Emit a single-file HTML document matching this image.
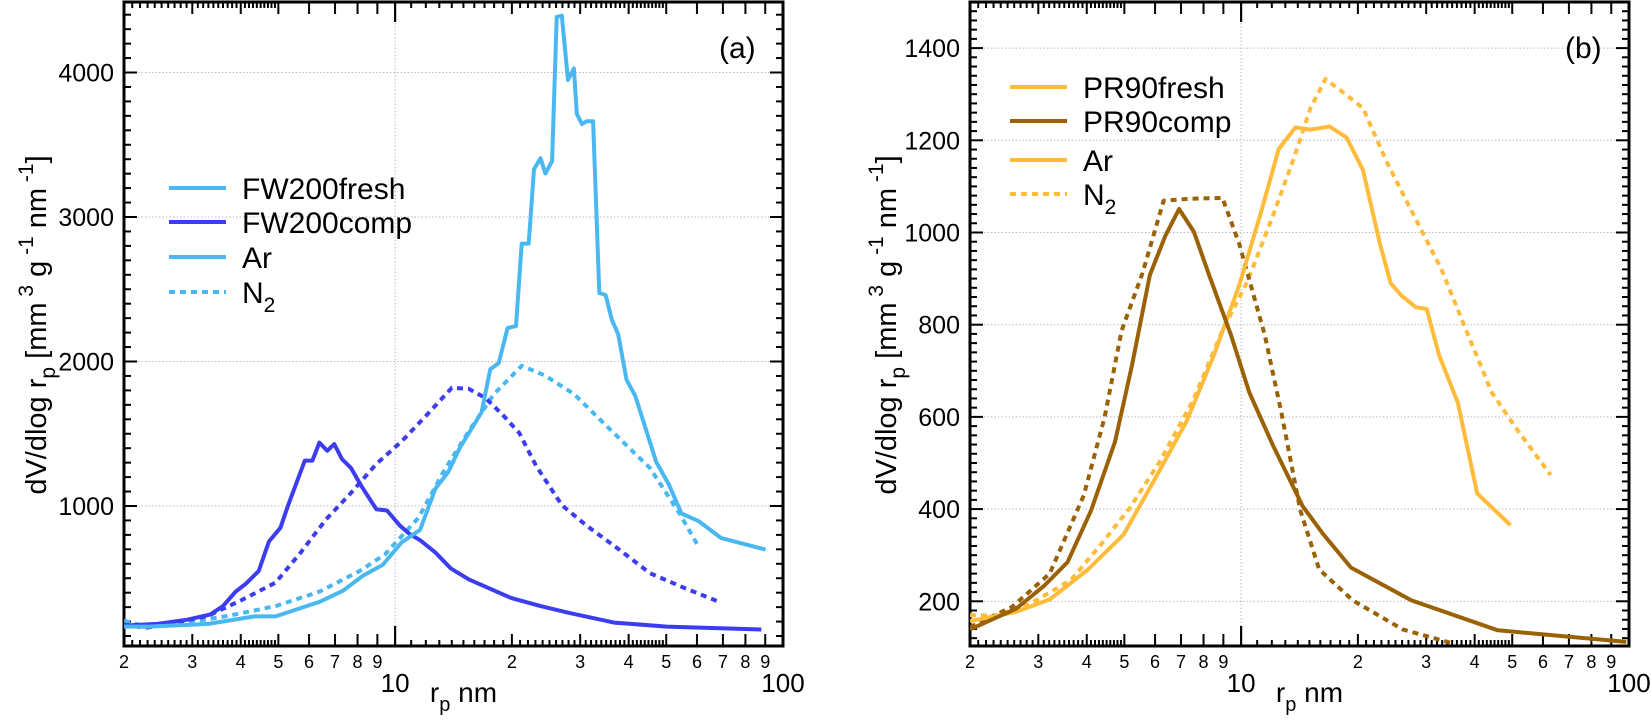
<!DOCTYPE html>
<html><head><meta charset="utf-8">
<style>
html,body{margin:0;padding:0;background:#fff;}
svg{display:block;font-family:"Liberation Sans",Arial,sans-serif;}
</style></head>
<body>
<svg id="chart" width="1651" height="724" viewBox="0 0 1651 724" xmlns="http://www.w3.org/2000/svg"></svg>
<script>
// ---------- Panel (a) data ----------
const aFreshR = [2.00,2.32,3.30,4.34,4.92,6.38,7.33,8.30,9.29,10.4,11.6,12.7,13.7,14.7,16.7,17.6,18.5,19.5,20.5,21.2,22.1,22.8,23.7,24.4,25.4,26.1,26.9,27.9,28.9,29.4,30.3,31.2,32.4,33.6,34.9,36.2,37.6,39.5,41.6,47.1,50.8,54.7,60.5,69.3,90.2];
const aFreshV = [165,165,184,236,236,336,413,521,592,749,835,1120,1234,1405,1647,1947,1989,2232,2246,2816,2816,3330,3407,3301,3387,4385,4393,3948,4028,3715,3643,3663,3663,2474,2460,2289,2189,1875,1761,1305,1148,949,897,778,698];
const aFreshN2R = [2.00,2.27,2.91,3.73,4.92,6.38,8.10,9.41,11.5,13.3,15.5,18.0,21.2,24.3,28.9,35.3,45.4,54.1,60.5];
const aFreshN2V = [207,165,193,241,307,407,550,664,920,1234,1519,1776,1970,1904,1776,1547,1262,949,721];
const aCompR = [2.00,2.44,2.91,3.34,3.60,3.88,4.13,4.45,4.73,5.06,5.30,5.85,6.12,6.38,6.68,6.97,7.29,7.70,8.20,8.95,9.53,10.3,10.9,11.6,12.7,13.9,15.5,19.9,23.7,28.2,36.7,50.1,87.9];
const aCompV = [173,184,213,250,307,407,464,550,755,849,1006,1314,1314,1439,1382,1428,1325,1262,1134,977,969,863,806,763,678,569,492,364,307,259,193,165,145];
const aCompN2R = [2.00,2.27,2.57,3.30,4.03,4.92,5.71,6.63,7.70,8.95,10.4,12.1,14.0,15.5,17.1,18.9,20.9,23.1,26.9,31.2,38.1,45.4,55.4,68.5];
const aCompN2V = [179,156,179,241,350,470,678,906,1091,1291,1448,1633,1818,1810,1747,1633,1505,1277,1006,863,692,535,435,336];
// ---------- Panel (b) data ----------
const bFreshR = [2.00,2.63,3.21,4.03,4.98,6.00,7.24,8.51,9.89,11.2,12.5,13.8,15.1,16.9,18.7,20.6,22.8,24.3,25.9,28.2,30.1,32.4,36.2,40.6,49.5];
const bFreshV = [157,177,204,269,345,466,591,734,886,1038,1181,1228,1223,1230,1206,1136,975,890,863,838,834,734,631,434,365];
const bFreshN2R = [2.00,2.32,2.84,3.64,4.34,5.17,6.15,7.51,8.95,10.4,12.1,13.7,15.1,16.5,18.5,20.6,23.7,27.5,32.8,38.1,44.3,51.4,62.8];
const bFreshN2V = [170,169,193,246,322,403,501,635,787,895,1038,1163,1270,1333,1301,1270,1154,1047,921,787,653,573,474];
const bCompR = [2.00,2.63,3.10,3.57,4.10,4.73,5.23,5.82,6.38,6.92,7.55,8.30,9.41,10.5,12.1,14.4,16.3,19.2,27.5,45.9,98.4];
const bCompV = [139,184,233,285,396,546,711,908,993,1051,1002,904,778,653,537,407,345,273,202,137,112];
const bCompN2R = [2.00,2.57,3.21,3.93,4.45,4.92,5.57,6.31,7.33,8.95,9.89,11.5,12.7,14.2,15.9,19.4,26.1,35.3];
const bCompN2V = [144,188,260,430,600,787,912,1069,1073,1075,975,778,609,398,269,202,139,108];
// ---------- ticks ----------
const aYTicks = [1000,2000,3000,4000];
const bYTicks = [200,400,600,800,1000,1200,1400];
const xMinorLabels = [2,3,4,5,6,7,8,9,20,30,40,50,60,70,80,90];
const xMajorLabels = [10,100];

const svg = document.getElementById('chart');
const NS = 'http://www.w3.org/2000/svg';
function mk(tag, attrs, parent){ const e=document.createElementNS(NS,tag); for(const k in attrs) e.setAttribute(k,attrs[k]); (parent||svg).appendChild(e); return e; }

function panel(cfg){
  const g = mk('g',{});
  
  
  const L=cfg.left, R=cfg.right, T=cfg.top, B=cfg.bottom;
  const xs = r => L + (Math.log10(r) - Math.log10(2)) / (2 - Math.log10(2)) * (R - L);
  const ys = v => B - (v - cfg.ymin) / (cfg.ymax - cfg.ymin) * (B - T);
  const clip = mk('clipPath',{id:cfg.id+'clip'},g);
  mk('rect',{x:L,y:T,width:R-L,height:B-T},clip);
  cfg.yTicks.forEach(v=>{
    const gl = mk('line',{x1:L,x2:R,y1:ys(v),y2:ys(v),stroke:'#bbb','stroke-width':1,'stroke-dasharray':'1.5,2'},g);
     
  });
  const gx = mk('line',{x1:xs(10),x2:xs(10),y1:T,y2:B,stroke:'#bbb','stroke-width':1,'stroke-dasharray':'1.5,2'},g);
   
  for(let v=Math.ceil(cfg.ymin/cfg.yMinor)*cfg.yMinor; v<=cfg.ymax; v+=cfg.yMinor){
    const major = cfg.yTicks.includes(v);
    const len = major?13:7;
    mk('line',{x1:L,x2:L+len,y1:ys(v),y2:ys(v),stroke:'#000','stroke-width':2},g);
    mk('line',{x1:R,x2:R-len,y1:ys(v),y2:ys(v),stroke:'#000','stroke-width':2},g);
  }
  cfg.yTicks.forEach(v=>{
    const t = mk('text',{x:L-10,y:ys(v)+9,'text-anchor':'end','font-size':25,fill:'#000'},g);
    t.textContent = v;
     
  });
  for(let d=1; d<=10; d*=10){
    for(let k=1; k<10; k+=0.1){
      const r = Math.round(k*10)/10*d;
      if(r<2-1e-9 || r>100+1e-9) continue;
      const isInt = Math.abs(k-Math.round(k))<1e-6;
      if(!isInt && k>5.01) continue;
      const len = (r===10||r===100)?20:(isInt?12:6);
      mk('line',{x1:xs(r),x2:xs(r),y1:B,y2:B-len,stroke:'#000','stroke-width':2},g);
      mk('line',{x1:xs(r),x2:xs(r),y1:T,y2:T+len,stroke:'#000','stroke-width':2},g);
    }
  }
  xMinorLabels.forEach(r=>{
    const t = mk('text',{x:xs(r),y:B+22,'text-anchor':'middle','font-size':18,fill:'#000'},g);
    t.textContent = String(r).charAt(0);
     
  });
  xMajorLabels.forEach(r=>{
    const t = mk('text',{x:xs(r),y:B+46,'text-anchor':'middle','font-size':26,fill:'#000'},g);
    t.textContent = r;
     
  });
  const fr = mk('rect',{x:L,y:T,width:R-L,height:B-T,fill:'none',stroke:'#000','stroke-width':3},g);
   
  cfg.series.forEach(s=>{
    const d = s.r.map((r,i)=>(i?'L':'M')+xs(r).toFixed(1)+','+ys(s.v[i]).toFixed(1)).join(' ');
    const p = mk('path',{d:d,fill:'none',stroke:s.color,'stroke-width':4,'stroke-linejoin':'round','clip-path':'url(#'+cfg.id+'clip)'},g);
    if(s.dash) p.setAttribute('stroke-dasharray','6,5');
    
    
  });
  const lg = mk('g',{},g);
   
  cfg.legend.forEach((e,i)=>{
    const y = cfg.legY[i];
    const ln = mk('line',{x1:cfg.legX,x2:cfg.legX+57,y1:y,y2:y,stroke:e.color,'stroke-width':4},lg);
    if(e.dash) ln.setAttribute('stroke-dasharray','6,5');
     
    const t = mk('text',{x:cfg.legX+73,y:y+11,'font-size':30,fill:'#000'},lg);
    if(e.label==='N2'){ t.textContent='N'; const s=mk('tspan',{dy:9,'font-size':21},t); s.textContent='2'; }
    else t.textContent = e.label;
     
  });
  const pl = mk('text',{x:R-64,y:T+56,'font-size':30,fill:'#000'},g);
  pl.textContent = cfg.tag;
   
  const xt = mk('text',{x:(L+R)/2+10,y:B+56,'text-anchor':'middle','font-size':28,fill:'#000'},g);
   
  xt.innerHTML = 'r<tspan dy="9" font-size="20">p</tspan><tspan dy="-9">  nm</tspan>';
  const yt = mk('text',{x:0,y:0,'text-anchor':'middle','font-size':29,fill:'#000',transform:'translate('+cfg.ytX+',325) rotate(-90)'},g);
   
  yt.innerHTML = 'dV/dlog r<tspan dy="9" font-size="21">p</tspan><tspan dy="-9"> [mm</tspan><tspan dy="-13" font-size="21"> 3</tspan><tspan dy="13"> g</tspan><tspan dy="-13" font-size="21"> -1</tspan><tspan dy="13"> nm</tspan><tspan dy="-13" font-size="21"> -1</tspan><tspan dy="13">]</tspan>';
}

panel({id:'a',name:'panel-a',tag:'(a)',left:124,right:783,top:2,bottom:646,ymin:31,ymax:4488,yMinor:100,yTicks:aYTicks,ytX:46,
  legX:169,legY:[188,222,257,292],
  series:[
    {name:'fw200fresh-n2-line',r:aFreshN2R,v:aFreshN2V,color:'#4ab8f0',dash:true},
    {name:'fw200comp-n2-line',r:aCompN2R,v:aCompN2V,color:'#3c3cf0',dash:true},
    {name:'fw200comp-ar-line',r:aCompR,v:aCompV,color:'#3c3cf0'},
    {name:'fw200fresh-ar-line',r:aFreshR,v:aFreshV,color:'#4ab8f0'}],
  legend:[{label:'FW200fresh',color:'#4ab8f0'},{label:'FW200comp',color:'#3c3cf0'},{label:'Ar',color:'#4ab8f0'},{label:'N2',color:'#4ab8f0',dash:true}]
});
panel({id:'b',name:'panel-b',tag:'(b)',left:970,right:1629,top:2,bottom:646,ymin:103,ymax:1500,yMinor:20,yTicks:bYTicks,ytX:896,
  legX:1010,legY:[87,121,160,194],
  series:[
    {name:'pr90fresh-n2-line',r:bFreshN2R,v:bFreshN2V,color:'#ffbb3a',dash:true},
    {name:'pr90comp-n2-line',r:bCompN2R,v:bCompN2V,color:'#9a6205',dash:true},
    {name:'pr90fresh-ar-line',r:bFreshR,v:bFreshV,color:'#ffbb3a'},
    {name:'pr90comp-ar-line',r:bCompR,v:bCompV,color:'#9a6205'}],
  legend:[{label:'PR90fresh',color:'#ffbb3a'},{label:'PR90comp',color:'#9a6205'},{label:'Ar',color:'#ffbb3a'},{label:'N2',color:'#ffbb3a',dash:true}]
});
</script>
</body></html>
